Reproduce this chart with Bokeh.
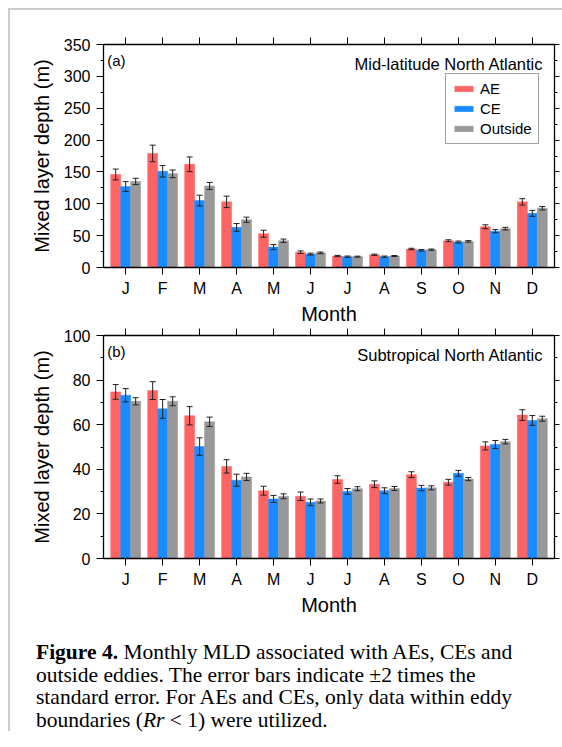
from bokeh.plotting import figure
from bokeh.models import (ColumnDataSource, Whisker, TeeHead, FixedTicker, SingleIntervalTicker,
                          LinearAxis, Legend, LegendItem, Label, Div, Range1d, CustomLabelingPolicy)
from bokeh.layouts import column
from bokeh.embed import file_html
from bokeh.resources import INLINE

months = [1, 2, 3, 4, 5, 6, 7, 8, 9, 10, 11, 12]
month_labels = ["J", "F", "M", "A", "M", "J", "J", "A", "S", "O", "N", "D"]

# Panel (a) Mid-latitude North Atlantic
ae_a = [146, 179, 162, 103, 53, 24, 18, 20, 29, 42, 64, 103]
ae_a_err = [8.5, 13, 11.5, 9, 5.5, 2, 1, 1, 1.2, 1.5, 3, 5]
ce_a = [127, 151, 105, 63, 32, 21, 17, 17, 27, 40, 57, 85]
ce_a_err = [7.8, 9, 8.5, 6, 4, 1.5, 1, 1, 1.2, 1.5, 2.5, 4.7]
out_a = [135, 147, 128, 75, 42, 23, 17, 18, 28, 41, 61, 93]
out_a_err = [5, 6, 5.5, 4, 2.6, 1.3, 0.8, 0.8, 1, 1.2, 2, 2.6]

# Panel (b) Subtropical North Atlantic
ae_b = [74.7, 75.3, 64, 41.3, 30.4, 27.9, 35.4, 33.3, 37.6, 34.2, 50.5, 64.3]
ae_b_err = [3.3, 4, 4.1, 3, 2, 1.9, 1.7, 1.5, 1.3, 1.3, 1.8, 2.4]
ce_b = [73.2, 67.1, 50.2, 35.1, 26.7, 25.2, 30.1, 30.4, 31.6, 38.2, 51.1, 61.9]
ce_b_err = [3, 4.2, 3.9, 2.7, 1.6, 1.5, 1.3, 1.3, 1.2, 1.3, 1.8, 2.2]
out_b = [70.5, 70.5, 61.3, 36.6, 27.9, 25.8, 31.3, 31.4, 31.7, 35.6, 52.4, 62.7]
out_b_err = [1.6, 2, 2.1, 1.6, 1.1, 0.9, 0.9, 0.9, 0.9, 0.7, 1, 1.1]

series_names = ["AE", "CE", "Outside"]
colors = ["#ff6464", "#1a8cff", "#999999"]
offsets = [-0.27, 0.0, 0.27]
BAR_W = 0.27
FONT = "Liberation Sans"


def style_axis(ax, labels=True):
    ax.axis_line_width = 1.3
    ax.axis_line_color = "black"
    ax.major_tick_line_color = "black"
    ax.minor_tick_line_color = "black"
    ax.major_tick_in = 0
    ax.minor_tick_in = 0
    ax.major_label_text_font = FONT
    ax.major_label_text_color = "black"
    ax.major_label_text_font_size = "16px"
    ax.axis_label_text_font = FONT
    ax.axis_label_text_font_style = "normal"
    ax.axis_label_text_color = "black"
    if not labels:
        ax.major_label_text_font_size = "0px"
        ax.major_label_policy = CustomLabelingPolicy(code="return new Set()")
        ax.major_label_standoff = 0


def make_panel(data, ymax, step, tag, title, tag_y, title_y, height, btop, bbot, legend=False):
    p = figure(width=550, height=height, x_range=Range1d(0.4, 12.6), y_range=Range1d(0, ymax),
               output_backend="svg", toolbar_location=None,
               min_border_left=93, min_border_right=6, min_border_top=btop, min_border_bottom=bbot)
    p.grid.visible = False
    p.outline_line_color = None
    p.background_fill_color = "white"
    p.border_fill_color = "white"

    renderers = []
    for (vals, errs), name, col, off in zip(data, series_names, colors, offsets):
        xs = [m + off for m in months]
        src = ColumnDataSource(dict(x=xs, top=vals,
                                    upper=[v + e for v, e in zip(vals, errs)],
                                    lower=[v - e for v, e in zip(vals, errs)]))
        r = p.vbar(x="x", top="top", width=BAR_W, bottom=0, source=src,
                   fill_color=col, line_color=col, line_width=0.5)
        renderers.append((name, r))
        w = Whisker(base="x", upper="upper", lower="lower", source=src,
                    line_color="#222222", line_width=1, level="overlay",
                    upper_head=TeeHead(size=6, line_color="#222222", line_width=1),
                    lower_head=TeeHead(size=6, line_color="#222222", line_width=1))
        p.add_layout(w)

    xa = p.xaxis[0]
    xa.ticker = FixedTicker(ticks=months, minor_ticks=[])
    xa.major_label_overrides = {m: l for m, l in zip(months, month_labels)}
    xa.axis_label = "Month"
    style_axis(xa)
    xa.major_tick_out = 7
    xa.major_label_standoff = 5
    xa.axis_label_text_font_size = "20px"
    xa.axis_label_standoff = 3

    ya = p.yaxis[0]
    ya.ticker = SingleIntervalTicker(interval=step, num_minor_ticks=2)
    ya.axis_label = "Mixed layer depth (m)"
    style_axis(ya)
    ya.major_tick_out = 7
    ya.minor_tick_out = 3
    ya.major_label_standoff = 6
    ya.axis_label_text_font_size = "20px"
    ya.axis_label_standoff = 8

    top_ax = LinearAxis(ticker=FixedTicker(ticks=months, minor_ticks=[]))
    style_axis(top_ax, labels=False)
    top_ax.major_tick_out = 7
    p.add_layout(top_ax, "above")

    right_ax = LinearAxis(ticker=SingleIntervalTicker(interval=step, num_minor_ticks=2))
    style_axis(right_ax, labels=False)
    right_ax.major_tick_out = 5
    right_ax.minor_tick_out = 3
    p.add_layout(right_ax, "right")

    p.add_layout(Label(x=0.5, y=tag_y, text=tag, text_baseline="middle", text_align="left",
                       text_font=FONT, text_font_size="15px", text_color="black"))
    p.add_layout(Label(x=12.3, y=title_y, text=title, text_baseline="middle", text_align="right",
                       text_font=FONT, text_font_size="16.5px", text_color="black"))

    if legend:
        items = [LegendItem(label=n, renderers=[r]) for n, r in renderers]
        lg = Legend(items=items, location=(342, 123), orientation="vertical",
                    border_line_color="#444444", border_line_width=1, background_fill_color="white",
                    background_fill_alpha=1.0, padding=6, spacing=3, margin=0,
                    glyph_width=23, glyph_height=7, label_height=16, label_standoff=5,
                    label_text_font=FONT, label_text_font_size="15px", label_text_color="black")
        p.add_layout(lg)
    return p


p1 = make_panel([(ae_a, ae_a_err), (ce_a, ce_a_err), (out_a, out_a_err)], 350, 50,
                "(a)", "Mid-latitude North Atlantic", 325, 319, 317, 34, 58, legend=True)
p2 = make_panel([(ae_b, ae_b_err), (ce_b, ce_b_err), (out_b, out_b_err)], 100, 20,
                "(b)", "Subtropical North Atlantic", 92.9, 91.1, 291, 8, 58)

caption = Div(text=("<b>Figure 4.</b> Monthly MLD associated with AEs, CEs and<br>"
                    "outside eddies. The error bars indicate &plusmn;2 times the<br>"
                    "standard error. For AEs and CEs, only data within eddy<br>"
                    "boundaries (<i>Rr</i> &lt; 1) were utilized."),
              width=530, margin=(23, 0, 0, 26),
              styles={"font-family": "Liberation Serif", "font-size": "21.5px",
                      "line-height": "22.5px", "color": "black", "white-space": "nowrap"})

layout = column(p1, p2, caption, margin=(8, 0, 0, 8),
                styles={"border-left": "2px solid #cccccc", "border-top": "2px solid #cccccc"})

open("out.html", "w").write(file_html(layout, INLINE))
